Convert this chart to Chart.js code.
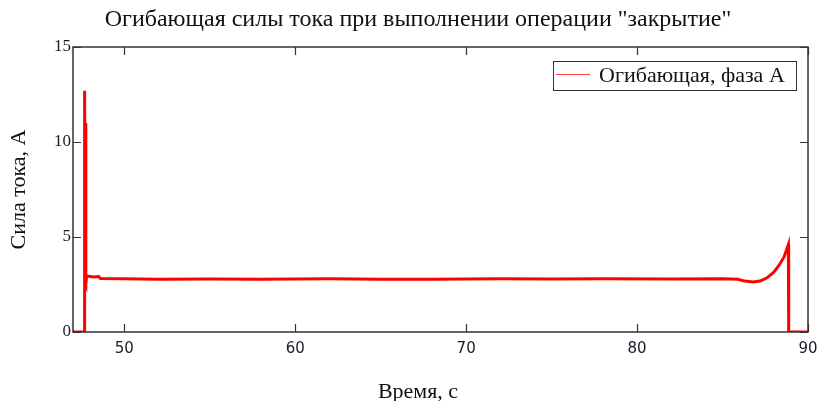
<!DOCTYPE html>
<html lang="en">
<head>
    <meta charset="UTF-8">
    <title>Огибающая силы тока</title>
</head>
<style>
    body {
        background-color: #ffffff;
        margin: 0;
        padding: 0;
    }
    .chart {
        width: 822px;
        height: 401px;
        display: block;
    }
</style>
<script src="https://cdn.jsdelivr.net/npm/chart.js"></script>
<body>
    <canvas id="chart" class="chart" width="822" height="401"></canvas>

    <script>
        const chartTitle = 'Огибающая силы тока при выполнении операции "закрытие"';
        const xTitle = 'Время, с';
        const yTitle = 'Сила тока, А';
        const seriesName = 'Огибающая, фаза А';

        const timeS = [47, 47.68, 47.68, 47.71, 47.74, 47.76, 47.8, 48.2, 48.5, 48.6, 50, 52, 55, 58, 62, 65, 68, 72, 75, 78, 82, 85, 85.9, 86.3, 86.8, 87.2, 87.6, 88.0, 88.3, 88.6, 88.85, 88.87, 90];
        const currentA = [0, 0, 12.7, 2.6, 11.0, 2.5, 2.95, 2.9, 2.92, 2.82, 2.8, 2.78, 2.79, 2.77, 2.8, 2.78, 2.77, 2.8, 2.79, 2.8, 2.79, 2.8, 2.78, 2.68, 2.63, 2.68, 2.85, 3.15, 3.5, 3.95, 4.6, 0, 0];
        const xTicks = [50, 60, 70, 80, 90];
        const yTicks = [0, 5, 10, 15];

        const points = timeS.map((t, i) => ({ x: t, y: currentA[i] }));
        const serif = "'Liberation Serif', 'DejaVu Serif', serif";
        const sans = "'DejaVu Sans', 'Liberation Sans', sans-serif";
        const axisColor = '#333333';

        // рамка, внутренние засечки, заголовки, легенда
        const framePlugin = {
            id: 'frame',
            afterDraw(chart) {
                const ctx = chart.ctx;
                const a = chart.chartArea;
                const xs = chart.scales.x;
                const ys = chart.scales.y;
                ctx.save();
                ctx.strokeStyle = axisColor;
                ctx.lineWidth = 1.5;
                ctx.strokeRect(a.left, a.top, a.right - a.left, a.bottom - a.top);
                ctx.lineWidth = 1.2;
                ctx.beginPath();
                xTicks.forEach(v => {
                    const px = Math.round(xs.getPixelForValue(v)) + 0.5;
                    ctx.moveTo(px, a.bottom); ctx.lineTo(px, a.bottom - 8);
                    ctx.moveTo(px, a.top); ctx.lineTo(px, a.top + 8);
                });
                yTicks.forEach(v => {
                    const py = Math.round(ys.getPixelForValue(v)) + 0.5;
                    ctx.moveTo(a.left, py); ctx.lineTo(a.left + 8, py);
                    ctx.moveTo(a.right, py); ctx.lineTo(a.right - 8, py);
                });
                ctx.stroke();

                ctx.fillStyle = '#111111';
                ctx.font = '24px ' + serif;
                ctx.textAlign = 'center';
                ctx.textBaseline = 'middle';
                ctx.fillText(chartTitle, 418, 20);

                ctx.font = '22px ' + serif;
                ctx.fillText(xTitle, 418, 392);

                ctx.save();
                ctx.translate(19, (a.top + a.bottom) / 2);
                ctx.rotate(-Math.PI / 2);
                ctx.fillText(yTitle, 0, 0);
                ctx.restore();

                // легенда
                ctx.fillStyle = '#ffffff';
                ctx.fillRect(553, 61, 244, 30);
                ctx.strokeStyle = axisColor;
                ctx.lineWidth = 1;
                ctx.strokeRect(553.5, 61.5, 243, 29);
                ctx.strokeStyle = '#ff4040';
                ctx.lineWidth = 1.2;
                ctx.beginPath();
                ctx.moveTo(556, 74.5);
                ctx.lineTo(590, 74.5);
                ctx.stroke();
                ctx.fillStyle = '#111111';
                ctx.textAlign = 'left';
                ctx.font = '22px ' + serif;
                ctx.fillText(seriesName, 599, 76);
                ctx.restore();
            }
        };

        const ctx = document.getElementById('chart').getContext('2d');
        const chart = new Chart(ctx, {
            type: 'line',
            data: {
                datasets: [{
                    label: seriesName,
                    data: points,
                    borderColor: '#ff0000',
                    backgroundColor: '#ff0000',
                    borderWidth: 3,
                    pointRadius: 0,
                    tension: 0,
                    fill: false
                }]
            },
            options: {
                responsive: false,
                animation: false,
                layout: { padding: { top: 47, right: 14, left: 0, bottom: 0 } },
                plugins: {
                    legend: { display: false },
                    title: { display: false },
                    tooltip: { enabled: false }
                },
                scales: {
                    x: {
                        type: 'linear',
                        min: 47,
                        max: 90,
                        afterBuildTicks: s => { s.ticks = xTicks.map(v => ({ value: v })); },
                        afterFit: s => { s.height = 69; s.paddingRight = 0; },
                        grid: { display: false, drawTicks: false },
                        border: { display: false },
                        ticks: {
                            padding: 8,
                            color: '#1a1a2a',
                            font: { family: sans, size: 15 }
                        }
                    },
                    y: {
                        min: 0,
                        max: 15,
                        afterBuildTicks: s => { s.ticks = yTicks.map(v => ({ value: v })); },
                        afterFit: s => { s.width = 73; },
                        grid: { display: false, drawTicks: false },
                        border: { display: false },
                        ticks: {
                            padding: 2,
                            color: '#1a1a2a',
                            font: { family: serif, size: 17 }
                        }
                    }
                }
            },
            plugins: [framePlugin]
        });
    </script>
</body>
</html>
